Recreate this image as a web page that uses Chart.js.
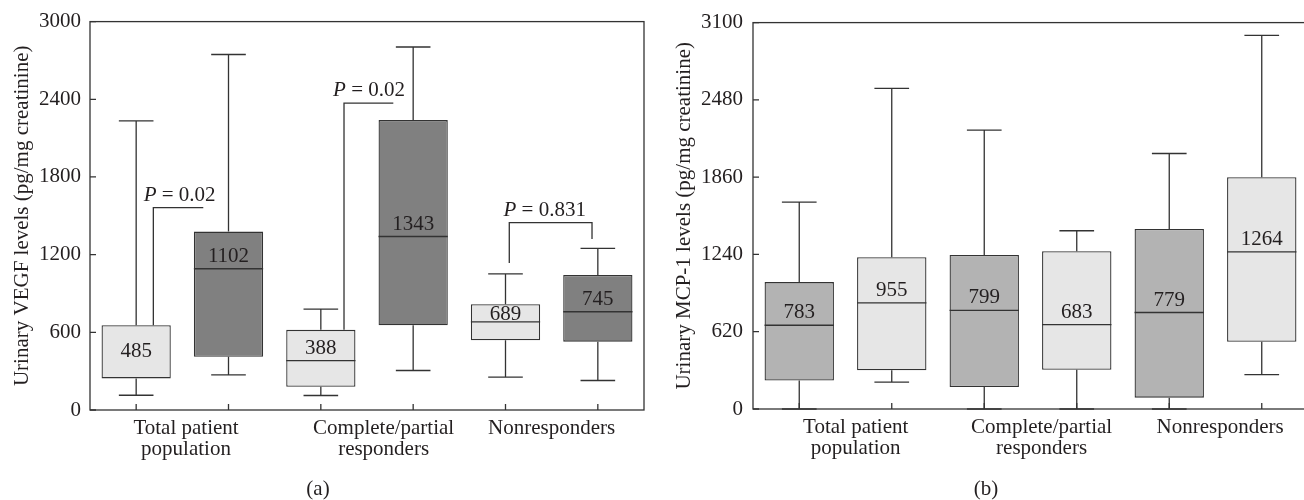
<!DOCTYPE html>
<html><head><meta charset="utf-8">
<script src="https://cdn.jsdelivr.net/npm/chart.js@4.4.0/dist/chart.umd.min.js"></script>
<style>
html,body{margin:0;padding:0;background:#fff;overflow:hidden;width:1304px;height:500px;}
#wrapA{position:absolute;left:0;top:0;width:652px;height:500px;}
#wrapB{position:absolute;left:652px;top:0;width:660px;height:500px;}
.cap{position:absolute;top:476px;font:21px "Liberation Serif",serif;color:#231f20;transform:translateX(-50%);line-height:24px;}
</style></head><body>
<div id="wrapA"><canvas id="cA" width="652" height="500"></canvas></div>
<div id="wrapB"><canvas id="cB" width="660" height="500"></canvas></div>
<div class="cap" style="left:318px">(a)</div>
<div class="cap" style="left:986px">(b)</div>
<script>
// ---- data ----
const boxSlots = ['Total 1','Total 2','Complete/partial 1','Complete/partial 2','Nonresponders 1','Nonresponders 2'];
const groupLabels = [['Total patient','population'], ['Complete/partial','responders'], ['Nonresponders']];

// Panel (a): urinary VEGF
const vegfMin    = [114, 272, 112, 305, 254, 228];
const vegfQ1     = [244, 411, 180, 655, 538, 528];
const vegfMedian = [null, 1091, 381, 1340, 680, 759];
const vegfQ3     = [655, 1378, 619, 2239, 817, 1043];
const vegfMax    = [2233, 2746, 779, 2804, 1051, 1249];
const vegfLabels = ['485', '1102', '388', '1343', '689', '745'];
const vegfTicks  = [0, 600, 1200, 1800, 2400, 3000];

// P-value brackets on panel (a)
const pValues     = ['0.02', '0.02', '0.831'];
const pLevels     = [1563, 2370, 1447];
const pLeftFrom   = [655, 619, 1135];
const pRightFrom  = [null, null, 1320];

// Panel (b): urinary MCP-1
const mcpMin    = [0, 215, 0, 0, 0, 276];
const mcpQ1     = [228, 310, 176, 315, 91, 540];
const mcpMedian = [672, 851, 792, 677, 774, 1260];
const mcpQ3     = [1018, 1218, 1236, 1265, 1444, 1859];
const mcpMax    = [1659, 2572, 2237, 1430, 2050, 2998];
const mcpLabels = ['783', '955', '799', '683', '779', '1264'];
const mcpTicks  = [0, 620, 1240, 1860, 2480, 3100];

// ---- styles ----
const FONT = '"Liberation Serif", "Times New Roman", serif';
const FS = 21;
const INK = '#231f20';
const LINE = '#333333';
Chart.defaults.font.family = FONT;
Chart.defaults.color = INK;

function makePlugin(cfg){
  return {
    id: 'boxExtras',
    beforeDatasetsDraw(chart){
      const ctx = chart.ctx, xs = chart.scales.x, ys = chart.scales.y;
      const meta = chart.getDatasetMeta(0);
      ctx.save();
      ctx.strokeStyle = LINE; ctx.lineWidth = 1.3;
      cfg.min.forEach((mn, i) => {
        const x = xs.getPixelForValue(i);
        const w = meta.data[i].width;
        const cap = w / 4;
        const pMin = ys.getPixelForValue(mn), pMax = ys.getPixelForValue(cfg.max[i]);
        const pQ1 = ys.getPixelForValue(cfg.q1[i]), pQ3 = ys.getPixelForValue(cfg.q3[i]);
        ctx.beginPath();
        ctx.moveTo(x, pQ3); ctx.lineTo(x, pMax);
        ctx.moveTo(x - cap, pMax); ctx.lineTo(x + cap, pMax);
        ctx.moveTo(x, pQ1); ctx.lineTo(x, pMin);
        ctx.moveTo(x - cap, pMin); ctx.lineTo(x + cap, pMin);
        ctx.stroke();
      });
      ctx.restore();
    },
    afterDatasetsDraw(chart){
      const ctx = chart.ctx, xs = chart.scales.x, ys = chart.scales.y;
      const a = chart.chartArea;
      const meta = chart.getDatasetMeta(0);
      ctx.save();
      ctx.strokeStyle = LINE; ctx.lineWidth = 1.3;
      // medians + labels
      ctx.font = FS + 'px ' + FONT;
      ctx.fillStyle = INK;
      ctx.textAlign = 'center';
      cfg.median.forEach((md, i) => {
        const x = xs.getPixelForValue(i);
        const w = meta.data[i].width;
        const pQ1 = ys.getPixelForValue(cfg.q1[i]), pQ3 = ys.getPixelForValue(cfg.q3[i]);
        if (md === null) {
          ctx.textBaseline = 'middle';
          ctx.fillText(cfg.labels[i], x, (pQ1 + pQ3) / 2);
        } else {
          const pm = ys.getPixelForValue(md);
          ctx.beginPath(); ctx.moveTo(x - w/2, pm); ctx.lineTo(x + w/2, pm); ctx.stroke();
          ctx.textBaseline = 'alphabetic';
          ctx.fillText(cfg.labels[i], x, Math.max(pm - 7, pQ3 + 16));
        }
      });
      // frame
      ctx.strokeRect(a.left, a.top, a.right - a.left, a.bottom - a.top);
      // inward ticks
      ctx.beginPath();
      cfg.yTicks.forEach(v => { const y = ys.getPixelForValue(v); ctx.moveTo(a.left, y); ctx.lineTo(a.left + 6, y); });
      cfg.min.forEach((_, i) => { const x = xs.getPixelForValue(i); ctx.moveTo(x, a.bottom); ctx.lineTo(x, a.bottom - 6); });
      ctx.stroke();
      // P-value brackets
      (cfg.brackets || []).forEach(b => {
        const lx = xs.getPixelForValue(b.leftX), rx = xs.getPixelForValue(b.rightX);
        const ly = ys.getPixelForValue(b.level);
        ctx.beginPath();
        ctx.moveTo(lx, ys.getPixelForValue(b.leftFrom));
        ctx.lineTo(lx, ly); ctx.lineTo(rx, ly);
        if (b.rightFrom !== null) ctx.lineTo(rx, ys.getPixelForValue(b.rightFrom));
        ctx.stroke();
        const tx = xs.getPixelForValue(b.textX);
        const italic = 'italic ' + FS + 'px ' + FONT, roman = FS + 'px ' + FONT;
        const rest = ' = ' + b.p;
        ctx.font = italic; const wP = ctx.measureText('P').width;
        ctx.font = roman; const wR = ctx.measureText(rest).width;
        const start = tx - (wP + wR) / 2;
        ctx.textAlign = 'left'; ctx.textBaseline = 'alphabetic';
        ctx.font = italic; ctx.fillText('P', start, ly - 7);
        ctx.font = roman; ctx.fillText(rest, start + wP, ly - 7);
      });
      ctx.restore();
    }
  };
}

function makeChart(id, cfg){
  return new Chart(document.getElementById(id), {
    type: 'bar',
    data: {
      labels: boxSlots,
      datasets: [{
        data: cfg.q1.map((q, i) => [q, cfg.q3[i]]),
        backgroundColor: cfg.colors,
        borderColor: LINE,
        borderWidth: 1.3,
        borderSkipped: false,
        barPercentage: 0.75,
        categoryPercentage: 1.0,
        xAxisID: 'x', yAxisID: 'y'
      }]
    },
    options: {
      responsive: false,
      animation: false,
      events: [],
      layout: { padding: { top: 16, left: 0, right: cfg.padRight, bottom: 0 } },
      plugins: { legend: { display: false }, tooltip: { enabled: false } },
      scales: {
        x: { type: 'category', display: false, offset: true },
        xg: {
          type: 'linear', position: 'bottom', min: -0.5, max: 5.5, offset: false,
          grid: { display: false, drawTicks: false, offset: false }, border: { display: false },
          afterBuildTicks: s => { s.ticks = cfg.groupPos.map(v => ({ value: v })); },
          afterFit: s => { s.height = cfg.xHeight; },
          ticks: {
            autoSkip: false, maxRotation: 0, minRotation: 0, padding: 8,
            font: { size: FS, lineHeight: 1.0, family: FONT }, color: INK,
            callback: (v, i) => groupLabels[i]
          }
        },
        y: {
          type: 'linear', position: 'left', min: 0, max: cfg.yTicks[cfg.yTicks.length - 1],
          grid: { display: false, drawTicks: false }, border: { display: false },
          afterBuildTicks: s => { s.ticks = cfg.yTicks.map(v => ({ value: v })); },
          afterFit: s => { s.width = cfg.yWidth; },
          ticks: { padding: cfg.tickPad, font: { size: FS, family: FONT }, color: INK, callback: v => String(v) },
          title: { display: true, text: cfg.title, font: { size: FS, family: FONT }, color: INK, padding: { top: cfg.titlePad, bottom: 0 } }
        }
      }
    },
    plugins: [makePlugin(cfg)]
  });
}

makeChart('cA', {
  min: vegfMin, q1: vegfQ1, median: vegfMedian, q3: vegfQ3, max: vegfMax, labels: vegfLabels,
  yTicks: vegfTicks, colors: ['#e6e6e6', '#808080', '#e6e6e6', '#808080', '#e6e6e6', '#808080'],
  title: 'Urinary VEGF levels (pg/mg creatinine)',
  yWidth: 90, xHeight: 90, padRight: 8, tickPad: 9, titlePad: 10,
  groupPos: [0.54, 2.68, 4.5],
  brackets: pValues.map((p, k) => ({
    p: p, level: pLevels[k], leftFrom: pLeftFrom[k], rightFrom: pRightFrom[k],
    leftX: [0.186, 2.251, 4.041][k], rightX: [0.727, 2.785, 4.937][k], textX: [0.471, 2.522, 4.425][k]
  }))
});

makeChart('cB', {
  min: mcpMin, q1: mcpQ1, median: mcpMedian, q3: mcpQ3, max: mcpMax, labels: mcpLabels,
  yTicks: mcpTicks, colors: ['#b3b3b3', '#e6e6e6', '#b3b3b3', '#e6e6e6', '#b3b3b3', '#e6e6e6'],
  title: 'Urinary MCP-1 levels (pg/mg creatinine)',
  yWidth: 101, xHeight: 91, padRight: 4, tickPad: 10, titlePad: 20,
  groupPos: [0.61, 2.62, 4.55]
});
</script>
</body></html>
